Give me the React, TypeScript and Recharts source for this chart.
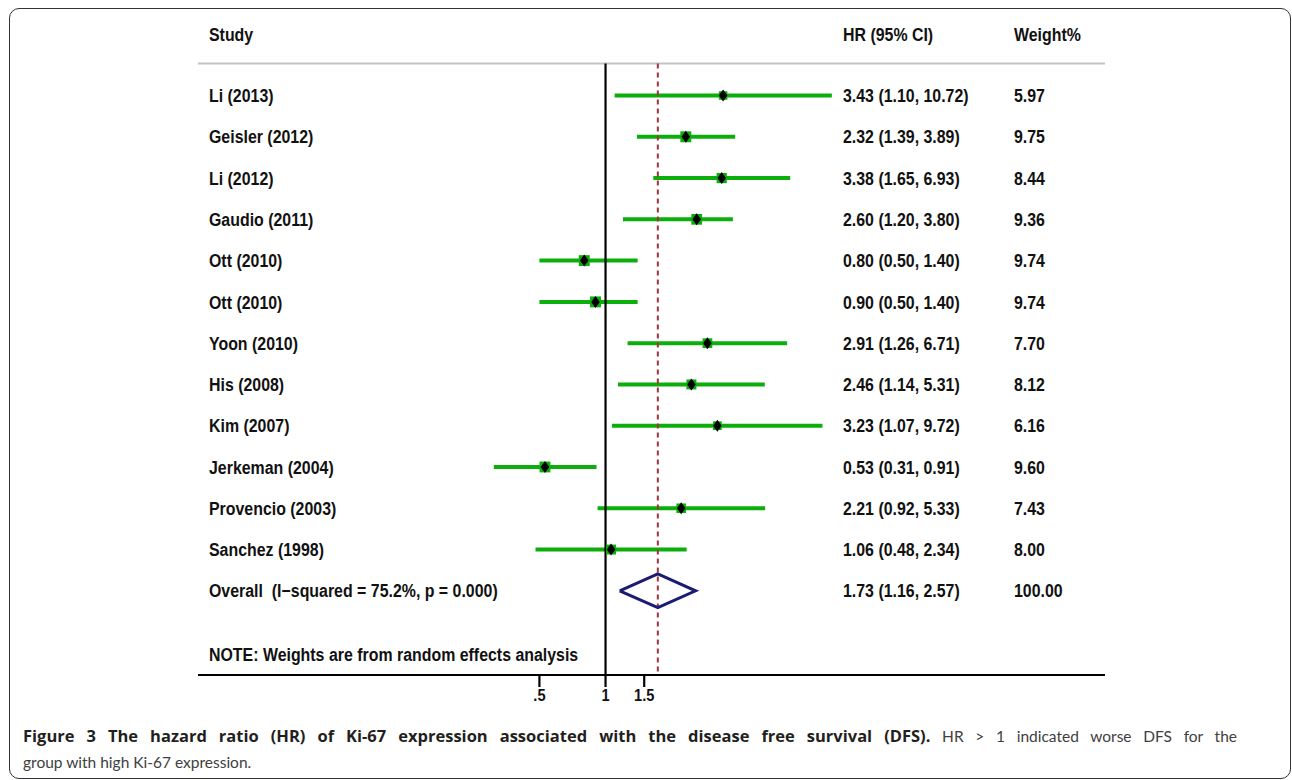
import { ComposedChart, XAxis, YAxis, Scatter, ReferenceLine } from "recharts";

// study rows, top to bottom
const studies = [
  "Li (2013)", "Geisler (2012)", "Li (2012)", "Gaudio (2011)", "Ott (2010)", "Ott (2010)",
  "Yoon (2010)", "His (2008)", "Kim (2007)", "Jerkeman (2004)", "Provencio (2003)", "Sanchez (1998)",
];
const hr = [3.43, 2.32, 3.38, 2.6, 0.8, 0.9, 2.91, 2.46, 3.23, 0.53, 2.21, 1.06];
const lo = [1.1, 1.39, 1.65, 1.2, 0.5, 0.5, 1.26, 1.14, 1.07, 0.31, 0.92, 0.48];
const hi = [10.72, 3.89, 6.93, 3.8, 1.4, 1.4, 6.71, 5.31, 9.72, 0.91, 5.33, 2.34];
const weights = [5.97, 9.75, 8.44, 9.36, 9.74, 9.74, 7.7, 8.12, 6.16, 9.6, 7.43, 8.0];

const overallLabel = "Overall  (I\u2212squared = 75.2%, p = 0.000)";
const overallHr = 1.73;
const overallLo = 1.16;
const overallHi = 2.57;
const overallWeight = 100;
const noteLabel = "NOTE: Weights are from random effects analysis";

const xTicks = [0.5, 1, 1.5];
const xTickLabels = [".5", "1", "1.5"];

// row positions on the y scale
const HEADER_ROW = -0.49;
const OVERALL_ROW = 13;
const NOTE_ROW = 14.55;
const TOP_RULE = 0.225;
const BOTTOM = 15.04;
const Y_DOMAIN: [number, number] = [-1.193, BOTTOM];
const X_DOMAIN: [number, number] = [0.01395, 187.9];

const GREEN = "#0bae0b";
const NAVY = "#1b1b72";
const MAROON = "#a3333d";
const FONT = '"Liberation Sans", Arial, sans-serif';

const fmt = (v: number) => v.toFixed(2);

const rows = studies.map((s, i) => ({
  row: i + 1,
  study: s,
  hr: hr[i],
  lo: lo[i],
  hi: hi[i],
  weight: weights[i],
}));

const diamond = [
  { hr: overallLo, row: OVERALL_ROW },
  { hr: overallHr, row: OVERALL_ROW - 0.41 },
  { hr: overallHi, row: OVERALL_ROW },
  { hr: overallHr, row: OVERALL_ROW + 0.41 },
  { hr: overallLo, row: OVERALL_ROW },
];

const rowTicks = [HEADER_ROW, ...rows.map(r => r.row), OVERALL_ROW, NOTE_ROW];

function textsFor(v: number): [string, string, string] {
  if (v === HEADER_ROW) return ["Study", "HR (95% CI)", "Weight%"];
  if (v === OVERALL_ROW) return [overallLabel, `${fmt(overallHr)} (${fmt(overallLo)}, ${fmt(overallHi)})`, fmt(overallWeight)];
  if (v === NOTE_ROW) return [noteLabel, "", ""];
  const r = rows.find(d => d.row === v);
  if (!r) return ["", "", ""];
  return [r.study, `${fmt(r.hr)} (${fmt(r.lo)}, ${fmt(r.hi)})`, fmt(r.weight)];
}

// narrow bold text, like Stata's Helvetica Narrow
function Narrow({ x, y, children }: { x: number; y: number; children: string }) {
  return (
    <text
      transform={`translate(${x} ${y}) scale(0.86 1)`}
      dy="0.36em"
      fontFamily={FONT}
      fontWeight={700}
      fontSize={18.5}
      fill="#111"
      style={{ whiteSpace: "pre" }}
    >
      {children}
    </text>
  );
}

function RowTick({ y, payload }: { y?: number; payload?: { value: number } }) {
  const [a, b, c] = textsFor(payload?.value ?? NaN);
  const yy = y ?? 0;
  return (
    <g>
      <Narrow x={209} y={yy}>{a}</Narrow>
      <Narrow x={843} y={yy}>{b}</Narrow>
      <Narrow x={1014} y={yy}>{c}</Narrow>
    </g>
  );
}

function Marker({ cx, cy, payload }: { cx?: number; cy?: number; payload?: { weight: number } }) {
  if (cx == null || cy == null) return <g />;
  const s = 3.5 * Math.sqrt(payload?.weight ?? 8);
  return (
    <g>
      <rect x={cx - s / 2} y={cy - s / 2} width={s} height={s} fill={GREEN} />
      <polygon points={`${cx},${cy - 6} ${cx + 4.3},${cy} ${cx},${cy + 6} ${cx - 4.3},${cy}`} fill="#000" />
    </g>
  );
}

function XTick({ x, y, payload }: { x?: number; y?: number; payload?: { value: number } }) {
  const v = payload?.value ?? 0;
  return (
    <text
      transform={`translate(${x} ${(y ?? 0) + 12}) scale(0.86 1)`}
      textAnchor="middle"
      fontFamily={FONT}
      fontWeight={700}
      fontSize={17}
      fill="#111"
    >
      {xTickLabels[xTicks.indexOf(v)] ?? String(v)}
    </text>
  );
}

export default function App() {
  return (
    <div style={{ position: "relative", width: 1292, height: 780, background: "#fff", overflow: "hidden" }}>
      <style>{"body{margin:0}"}</style>
      <div style={{ position: "absolute", left: 9, top: 8, width: 1282, height: 771, boxSizing: "border-box", border: "1.5px solid #333", borderRadius: 10 }} />

      <div style={{ position: "absolute", left: 0, top: 0 }}>
        <ComposedChart width={1292} height={720} margin={{ top: 5, right: 187, bottom: 0, left: 0 }}>
          <XAxis
            dataKey="hr"
            type="number"
            scale="log"
            domain={X_DOMAIN}
            allowDataOverflow
            ticks={xTicks}
            interval={0}
            height={45}
            tickSize={12}
            axisLine={{ stroke: "#000", strokeWidth: 2.2 }}
            tickLine={{ stroke: "#000", strokeWidth: 2.2 }}
            tick={<XTick />}
          />
          <YAxis
            dataKey="row"
            type="number"
            domain={Y_DOMAIN}
            allowDataOverflow
            reversed
            ticks={rowTicks}
            interval={0}
            width={198}
            axisLine={false}
            tickLine={false}
            tick={<RowTick />}
          />
          <ReferenceLine y={TOP_RULE} stroke="#c4c4c4" strokeWidth={2} />
          {rows.map(r => (
            <ReferenceLine
              key={`ci-${r.row}`}
              segment={[{ x: r.lo, y: r.row }, { x: r.hi, y: r.row }]}
              stroke={GREEN}
              strokeWidth={4}
            />
          ))}
          <ReferenceLine segment={[{ x: 1, y: TOP_RULE }, { x: 1, y: BOTTOM }]} stroke="#000" strokeWidth={2.2} />
          <ReferenceLine
            segment={[{ x: overallHr, y: TOP_RULE }, { x: overallHr, y: BOTTOM }]}
            stroke={MAROON}
            strokeWidth={2}
            strokeDasharray="5 4"
          />
          <Scatter data={rows} dataKey="row" shape={<Marker />} isAnimationActive={false} />
          <Scatter
            data={diamond}
            dataKey="row"
            line={{ stroke: NAVY, strokeWidth: 3 }}
            lineJointType="linear"
            shape={() => <g />}
            isAnimationActive={false}
          />
        </ComposedChart>
      </div>

      <div style={{ position: "absolute", left: 23, top: 723, width: 1214, fontFamily: "Lato, 'Open Sans', sans-serif", fontSize: 15.5, lineHeight: "26px", color: "#404040" }}>
        <div style={{ textAlign: "justify", textAlignLast: "justify" }}>
          <span style={{ fontWeight: 700, color: "#231f20", fontFamily: "'Open Sans', Lato, sans-serif", fontSize: 16.5 }}>
            Figure 3 The hazard ratio (HR) of Ki-67 expression associated with the disease free survival (DFS).
          </span>{" "}
          HR &gt; 1 indicated worse DFS for the
        </div>
        <div>group with high Ki-67 expression.</div>
      </div>
    </div>
  );
}
